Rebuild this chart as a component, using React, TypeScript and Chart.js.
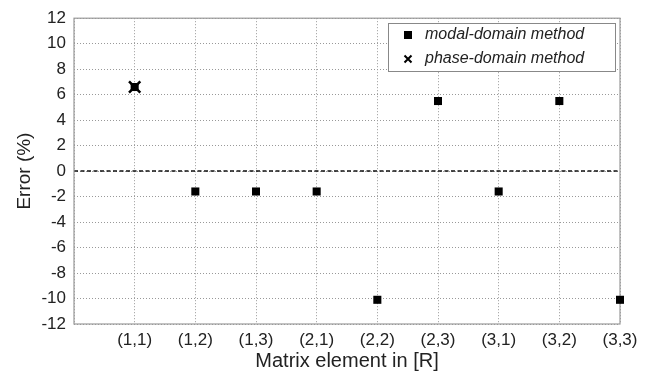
import React, { useEffect, useRef } from "react";
import { Chart, registerables } from "chart.js";

Chart.register(...registerables);

const categories = ["(1,1)", "(1,2)", "(1,3)", "(2,1)", "(2,2)", "(2,3)", "(3,1)", "(3,2)", "(3,3)"];
const modalValues = [6.6, -1.6, -1.6, -1.6, -10.1, 5.5, -1.6, 5.5, -10.1];
const phaseValues: (number | null)[] = [6.6, null, null, null, null, null, null, null, null];
const legendLabels = ["modal-domain method", "phase-domain method"];

const FONT = "'Liberation Sans', Arial, Helvetica, sans-serif";

export default function App() {
  const ref = useRef<HTMLCanvasElement | null>(null);

  useEffect(() => {
    document.body.style.margin = "0";
    const canvas = ref.current;
    if (!canvas) return;

    const modalData = modalValues.map((v, i) => ({ x: i + 1, y: v }));
    const phaseData = phaseValues
      .map((v, i) => (v === null ? null : { x: i + 1, y: v }))
      .filter((p) => p !== null) as { x: number; y: number }[];

    const framePlugin = {
      id: "frameAndZero",
      beforeDatasetsDraw(chart: any) {
        const { ctx, chartArea, scales } = chart;
        const y0 = scales.y.getPixelForValue(0);
        ctx.save();
        ctx.strokeStyle = "#111";
        ctx.lineWidth = 1.5;
        ctx.setLineDash([4, 2.5]);
        ctx.beginPath();
        ctx.moveTo(chartArea.left, y0);
        ctx.lineTo(chartArea.right, y0);
        ctx.stroke();
        ctx.setLineDash([]);
        ctx.strokeStyle = "#999";
        ctx.lineWidth = 1.2;
        ctx.strokeRect(chartArea.left, chartArea.top, chartArea.right - chartArea.left, chartArea.bottom - chartArea.top);
        ctx.restore();
      },
      afterDraw(chart: any) {
        const { ctx } = chart;
        const bx = 388.5, by = 23.5, bw = 227, bh = 48;
        ctx.save();
        ctx.fillStyle = "#fff";
        ctx.fillRect(bx, by, bw, bh);
        ctx.strokeStyle = "#888";
        ctx.lineWidth = 1;
        ctx.strokeRect(bx, by, bw, bh);
        // square marker
        ctx.fillStyle = "#000";
        ctx.fillRect(404, 31, 8, 8);
        // cross marker
        ctx.strokeStyle = "#000";
        ctx.lineWidth = 2;
        ctx.beginPath();
        ctx.moveTo(404.5, 55.5);
        ctx.lineTo(411.5, 62.5);
        ctx.moveTo(411.5, 55.5);
        ctx.lineTo(404.5, 62.5);
        ctx.stroke();
        ctx.fillStyle = "#222";
        ctx.font = `italic 16px ${FONT}`;
        ctx.textBaseline = "middle";
        ctx.textAlign = "left";
        ctx.fillText(legendLabels[0], 425, 35);
        ctx.fillText(legendLabels[1], 425, 59);
        ctx.restore();
      },
    };

    const chart = new Chart(canvas, {
      type: "scatter",
      data: {
        datasets: [
          {
            label: legendLabels[1],
            data: phaseData,
            pointStyle: "crossRot",
            pointRadius: 8,
            pointBorderWidth: 2.5,
            borderColor: "#000",
            backgroundColor: "#000",
            clip: false,
          },
          {
            label: legendLabels[0],
            data: modalData,
            pointStyle: "rect",
            pointRadius: 5.7,
            pointBorderWidth: 0,
            borderColor: "#000",
            backgroundColor: "#000",
            clip: false,
          },
        ],
      },
      plugins: [framePlugin],
      options: {
        animation: false,
        responsive: false,
        devicePixelRatio: 1,
        layout: { padding: { left: 0, right: 33, top: 17, bottom: 0 } },
        plugins: {
          legend: { display: false },
          tooltip: { enabled: false },
        },
        scales: {
          x: {
            type: "linear",
            min: 0,
            max: 9,
            afterFit: (scale: any) => {
              scale.height = 52;
            },
            ticks: {
              stepSize: 1,
              autoSkip: false,
              maxRotation: 0,
              padding: 6,
              color: "#222",
              font: { family: FONT, size: 17 },
              callback: (v: any) => categories[Number(v) - 1] ?? "",
            },
            grid: { color: "#999", lineWidth: 1, drawTicks: false },
            border: { display: false, dash: [1, 2] },
            title: {
              display: true,
              text: "Matrix element in [R]",
              color: "#222",
              font: { family: FONT, size: 20 },
              padding: { top: 0, bottom: 3 },
            },
          },
          y: {
            min: -12,
            max: 12,
            afterFit: (scale: any) => {
              scale.width = 74;
            },
            ticks: {
              stepSize: 2,
              padding: 8,
              color: "#222",
              font: { family: FONT, size: 17 },
            },
            grid: { color: "#999", lineWidth: 1, drawTicks: false },
            border: { display: false, dash: [1, 2] },
            title: {
              display: true,
              text: "Error (%)",
              color: "#222",
              font: { family: FONT, size: 19 },
              padding: { top: 13, bottom: 0 },
            },
          },
        },
      },
    });

    return () => chart.destroy();
  }, []);

  return (
    <div style={{ width: 653, height: 376 }}>
      <canvas ref={ref} width={653} height={376} />
    </div>
  );
}
